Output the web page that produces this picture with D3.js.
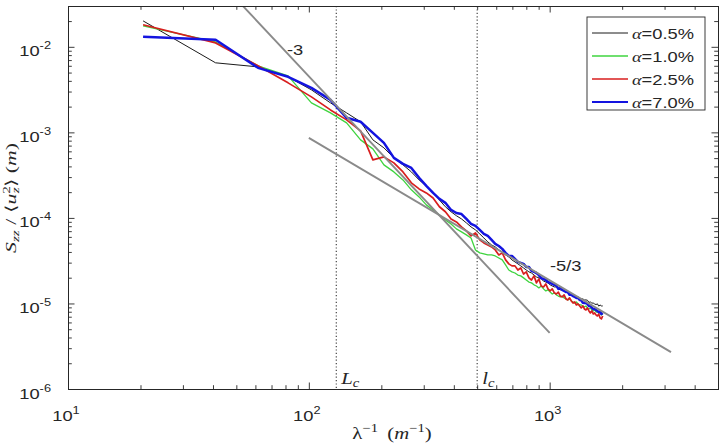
<!DOCTYPE html>
<html><head><meta charset="utf-8">
<script src="https://cdn.jsdelivr.net/npm/d3@7/dist/d3.min.js"></script>
<style>body{margin:0;background:#fff}svg{display:block}</style>
</head><body>
<svg id="c" width="727" height="446"></svg>
<script>
// ---------------- data ----------------
const freq = [20.5,41,61.5,82,102.5,123,143.5,164,184.5,205,225.5,246,266.5,287,307.5,328,348.5,369,389.5,410,
 430.5,451,471.5,492,512.5,533,553.5,574,594.5,615,635.5,656,676.5,697,717.5,738,758.5,779,799.5,820,
 840.5,861,881.5,902,922.5,943,963.5,984,1004.5,1025,1045.5,1066,1086.5,1107,1127.5,1148,1168.5,1189,1209.5,1230,
 1250.5,1271,1291.5,1312,1332.5,1353,1373.5,1394,1414.5,1435,1455.5,1476,1496.5,1517,1537.5,1558,1578.5,1599,1619.5,1640,1660.5];

const s05 = [2.01e-2,6.50e-3,5.83e-3,4.46e-3,3.14e-3,2.21e-3,1.69e-3,1.33e-3,8.17e-4,6.59e-4,
 5.03e-4,4.17e-4,3.45e-4,2.78e-4,2.37e-4,2.01e-4,1.62e-4,1.35e-4,1.18e-4,1.06e-4,
 9.73e-5,8.74e-5,7.85e-5,7.24e-5,6.50e-5,5.83e-5,5.24e-5,4.83e-5,4.58e-5,4.22e-5,
 4.00e-5,3.69e-5,3.50e-5,3.23e-5,3.06e-5,2.90e-5,2.75e-5,2.60e-5,2.46e-5,2.34e-5,
 2.27e-5,2.15e-5,2.04e-5,1.99e-5,1.93e-5,1.83e-5,1.78e-5,1.74e-5,1.65e-5,1.60e-5,
 1.56e-5,1.56e-5,1.48e-5,1.44e-5,1.44e-5,1.40e-5,1.36e-5,1.33e-5,1.29e-5,1.29e-5,
 1.26e-5,1.25e-5,1.17e-5,1.19e-5,1.16e-5,1.13e-5,1.13e-5,1.10e-5,1.10e-5,1.09e-5,
 1.03e-5,1.04e-5,1.01e-5,1.01e-5,9.86e-6,9.7e-6,9.9e-6,9.3e-6,9.6e-6,9.35e-6,9.35e-6];

const s10 = [1.76e-2,1.14e-2,6.00e-3,4.58e-3,2.21e-3,1.69e-3,1.29e-3,8.17e-4,6.41e-4,4.17e-4,
 3.45e-4,2.78e-4,2.13e-4,1.76e-4,1.42e-4,1.24e-4,1.08e-4,9.47e-5,8.51e-5,7.44e-5,
 6.86e-5,6.33e-5,5.83e-5,4.22e-5,3.90e-5,3.79e-5,3.69e-5,3.69e-5,3.59e-5,3.40e-5,
 3.23e-5,2.82e-5,2.46e-5,2.34e-5,2.27e-5,2.15e-5,2.10e-5,1.99e-5,1.88e-5,1.78e-5,
 1.74e-5,1.65e-5,1.60e-5,1.52e-5,1.60e-5,1.48e-5,1.40e-5,1.44e-5,1.36e-5,1.29e-5,
 1.33e-5,1.26e-5,1.22e-5,1.19e-5,1.22e-5,1.16e-5,1.13e-5,1.10e-5,1.13e-5,1.07e-5,
 1.04e-5,1.01e-5,1.04e-5,9.86e-6,9.60e-6,9.60e-6,9.35e-6,9.10e-6,9.35e-6,8.86e-6,
 8.62e-6,8.86e-6,8.39e-6,8.17e-6,8.39e-6,7.95e-6,7.95e-6,7.74e-6,7.74e-6,7.34e-6,7.54e-6];

const s25 = [1.81e-2,1.11e-2,6.00e-3,3.79e-3,2.60e-3,1.83e-3,1.40e-3,1.04e-3,4.77e-4,5.17e-4,
 4.40e-4,3.45e-4,2.57e-4,2.18e-4,1.96e-4,1.71e-4,1.35e-4,1.18e-4,9.73e-5,8.98e-5,
 7.85e-5,7.05e-5,6.16e-5,6.68e-5,5.53e-5,5.10e-5,4.83e-5,4.58e-5,4.22e-5,3.69e-5,
 3.90e-5,3.23e-5,2.90e-5,2.75e-5,2.75e-5,2.46e-5,2.60e-5,2.21e-5,2.34e-5,1.99e-5,
 1.88e-5,2.10e-5,1.74e-5,1.93e-5,1.60e-5,1.56e-5,1.69e-5,1.48e-5,1.40e-5,1.48e-5,
 1.33e-5,1.29e-5,1.36e-5,1.22e-5,1.19e-5,1.26e-5,1.13e-5,1.10e-5,1.16e-5,1.07e-5,
 1.01e-5,1.04e-5,9.60e-6,9.86e-6,9.35e-6,8.86e-6,9.35e-6,8.62e-6,8.39e-6,8.86e-6,
 8.17e-6,7.74e-6,8.17e-6,7.54e-6,7.74e-6,7.34e-6,7.14e-6,7.54e-6,6.77e-6,6.59e-6,7.14e-6];

const s70 = [1.31e-2,1.21e-2,5.68e-3,4.46e-3,3.31e-3,2.40e-3,1.48e-3,1.33e-3,9.86e-4,7.54e-4,
 5.03e-4,4.28e-4,3.84e-4,2.94e-4,2.37e-4,1.96e-4,1.67e-4,1.50e-4,1.24e-4,1.14e-4,
 1.11e-4,9.73e-5,8.51e-5,8.06e-5,7.24e-5,6.50e-5,6.16e-5,5.53e-5,4.97e-5,4.70e-5,
 4.34e-5,3.90e-5,3.59e-5,3.59e-5,3.31e-5,3.06e-5,2.98e-5,2.90e-5,2.67e-5,2.67e-5,
 2.40e-5,2.34e-5,2.27e-5,2.14e-5,1.98e-5,1.93e-5,1.88e-5,1.78e-5,1.74e-5,1.69e-5,
 1.65e-5,1.62e-5,1.48e-5,1.52e-5,1.44e-5,1.40e-5,1.36e-5,1.36e-5,1.26e-5,1.26e-5,
 1.22e-5,1.19e-5,1.16e-5,1.16e-5,1.10e-5,1.09e-5,1.02e-5,1.01e-5,1.01e-5,9.86e-6,
 9.35e-6,9.3e-6,8.9e-6,8.62e-6,8.62e-6,8.39e-6,8.17e-6,7.95e-6,7.95e-6,7.54e-6,7.74e-6];

const seriesNames = ["\u03B1=0.5%","\u03B1=1.0%","\u03B1=2.5%","\u03B1=7.0%"];
const seriesColors = ["#1a1a1a","#3fd43f","#d81e1e","#1414e0"];
const seriesWidths = [1.0,1.3,1.7,2.5];

// reference power-law lines (end points)
const steepLine = [[50,3.62e-2],[1000,4.52e-6]];   // slope -3
const shallowLine = [[100,8.63e-4],[3190,2.70e-6]]; // slope -5/3
const cutoffs = [130,500];
const cutoffLabels = ["L","l"];

const xMajor = [10,100,1000];
const yMajor = [1e-6,1e-5,1e-4,1e-3,1e-2];
const xMajorExp = ["1","2","3"];
const yMajorExp = ["-6","-5","-4","-3","-2"];
const minorMult = [2,3,4,5,6,7,8,9];

// ---------------- layout ----------------
const L = 68, R = 718, T = 6, B = 389;
const SX = 1.22; // horizontal stretch of the reference's text
const x = d3.scaleLog().domain([10,5000]).range([L,R]);
const y = d3.scaleLog().domain([1e-6,0.03]).range([B,T]);
const svg = d3.select("#c");
const axisColor = "#262626";
const sans = "'Liberation Sans', Arial, Helvetica, sans-serif";
const serif = "'Liberation Serif', 'Times New Roman', serif";

function stext(px, py, anchor, rot, sx) {
  const k = sx === undefined ? SX : sx;
  const g = svg.append("g").attr("transform",
    `translate(${px},${py}) scale(${k},1)` + (rot ? ` rotate(${rot})` : ""));
  return g.append("text").attr("text-anchor", anchor).attr("fill","#262626");
}

svg.append("defs").append("clipPath").attr("id","clip")
  .append("rect").attr("x",L).attr("y",T).attr("width",R-L).attr("height",B-T);

// cutoff dotted lines
cutoffs.forEach(c => {
  svg.append("line").attr("x1",x(c)).attr("x2",x(c)).attr("y1",T).attr("y2",B)
    .attr("stroke","#333").attr("stroke-width",1.1).attr("stroke-dasharray","1.2,2.2");
});

// series
const allSeries = [s05,s10,s25,s70];
const line = d3.line().x(d => x(d[0])).y(d => y(d[1]));
allSeries.forEach((s,i) => {
  svg.append("path").datum(freq.map((f,k) => [f, s[k]]))
    .attr("d", line).attr("fill","none")
    .attr("stroke", seriesColors[i]).attr("stroke-width", seriesWidths[i])
    .attr("stroke-linejoin","round").attr("clip-path","url(#clip)");
});

// reference lines
[steepLine, shallowLine].forEach(ln => {
  svg.append("path").datum(ln).attr("d", line).attr("fill","none")
    .attr("stroke","#8a8a8a").attr("stroke-width",1.9).attr("clip-path","url(#clip)");
});

// axes
function minorOf(majors, lo, hi) {
  const out = [];
  majors.forEach(m => minorMult.forEach(k => { const v = m*k; if (v > lo && v < hi) out.push(v); }));
  return out;
}
const xMinor = minorOf([10,100,1000], 10, 5000);
const yMinor = minorOf([1e-6,1e-5,1e-4,1e-3,1e-2], 1e-6, 0.03);

function drawAxis(axisFn, scale, majors, minors, transform) {
  const g1 = svg.append("g").attr("transform", transform)
    .call(axisFn(scale).tickValues(majors).tickSize(-6.5).tickFormat(""));
  const g2 = svg.append("g").attr("transform", transform)
    .call(axisFn(scale).tickValues(minors).tickSize(-3.8).tickFormat(""));
  [g1,g2].forEach(g => {
    g.selectAll("line").attr("stroke", axisColor).attr("stroke-width",0.9);
    g.select(".domain").attr("stroke", axisColor).attr("stroke-width",1);
  });
}
drawAxis(d3.axisBottom, x, xMajor, xMinor, `translate(0,${B})`);
drawAxis(d3.axisTop, x, xMajor, xMinor, `translate(0,${T})`);
drawAxis(d3.axisLeft, y, yMajor, yMinor, `translate(${L},0)`);
drawAxis(d3.axisRight, y, yMajor, yMinor, `translate(${R},0)`);

// tick labels
xMajor.forEach((v,i) => {
  const t = stext(x(v)-2, 421, "middle").style("font-family", sans).style("font-size","15px");
  t.append("tspan").text("10");
  t.append("tspan").attr("dy",-7).style("font-size","10.5px").text(xMajorExp[i]);
});
yMajor.forEach((v,i) => {
  const t = stext(51, y(v)+9.5, "end").style("font-family", sans).style("font-size","15px");
  t.append("tspan").text("10");
  t.append("tspan").attr("dy",-7).style("font-size","10.5px").text(yMajorExp[i]);
});

// axis titles
{
  const t = stext(392, 439, "middle").style("font-family", serif).style("font-size","17px");
  t.append("tspan").text("\u03BB");
  t.append("tspan").attr("dy",-7).style("font-size","12px").text("\u22121");
  t.append("tspan").attr("dy",7).text("\u2009 (");
  t.append("tspan").style("font-style","italic").text("m");
  t.append("tspan").attr("dy",-7).style("font-size","12px").text("\u22121");
  t.append("tspan").attr("dy",7).text(")");
}
{
  const t = stext(16, 198, "middle", -90, 1.0).style("font-family", serif).style("font-size","15px")
    .attr("textLength", 110).attr("lengthAdjust", "spacingAndGlyphs");
  t.append("tspan").style("font-style","italic").text("S");
  t.append("tspan").attr("dy",3).style("font-size","10.5px").style("font-style","italic").text("zz");
  t.append("tspan").attr("dy",-3).text(" / \u27E8");
  t.append("tspan").style("font-style","italic").text("u");
  t.append("tspan").attr("dy",-6).style("font-size","10.5px").text("2");
  t.append("tspan").attr("dx",-5).attr("dy",9).style("font-size","10.5px").style("font-style","italic").text("z");
  t.append("tspan").attr("dy",-3).text("\u27E9 (");
  t.append("tspan").style("font-style","italic").text("m");
  t.append("tspan").text(")");
}

// slope annotations
stext(287, 55, "start").style("font-family", sans).style("font-size","15px").text("-3");
stext(550, 271, "start").style("font-family", sans).style("font-size","15px").text("-5/3");

// cutoff labels
cutoffs.forEach((c,i) => {
  const t = stext(x(c)+5, 384, "start").style("font-family", serif).style("font-size","17px");
  t.append("tspan").style("font-style","italic").text(cutoffLabels[i]);
  t.append("tspan").attr("dy",3).style("font-size","12px").style("font-style","italic").text("c");
});

// legend
const lgX = 587, lgY = 17, lgW = 118, lgH = 93;
svg.append("rect").attr("x",lgX).attr("y",lgY).attr("width",lgW).attr("height",lgH)
  .attr("fill","#fff").attr("stroke",axisColor).attr("stroke-width",0.9);
seriesNames.forEach((nm,i) => {
  const cy = 33 + i*23;
  svg.append("line").attr("x1",592).attr("x2",628).attr("y1",cy).attr("y2",cy)
    .attr("stroke",seriesColors[i]).attr("stroke-width",Math.min(seriesWidths[i],2));
  const t = stext(632, cy+5.5, "start").style("font-family", sans).style("font-size","15px");
  t.append("tspan").style("font-family", serif).style("font-style","italic").text(nm.slice(0,1));
  t.append("tspan").text(nm.slice(1));
});
</script>
</body></html>
